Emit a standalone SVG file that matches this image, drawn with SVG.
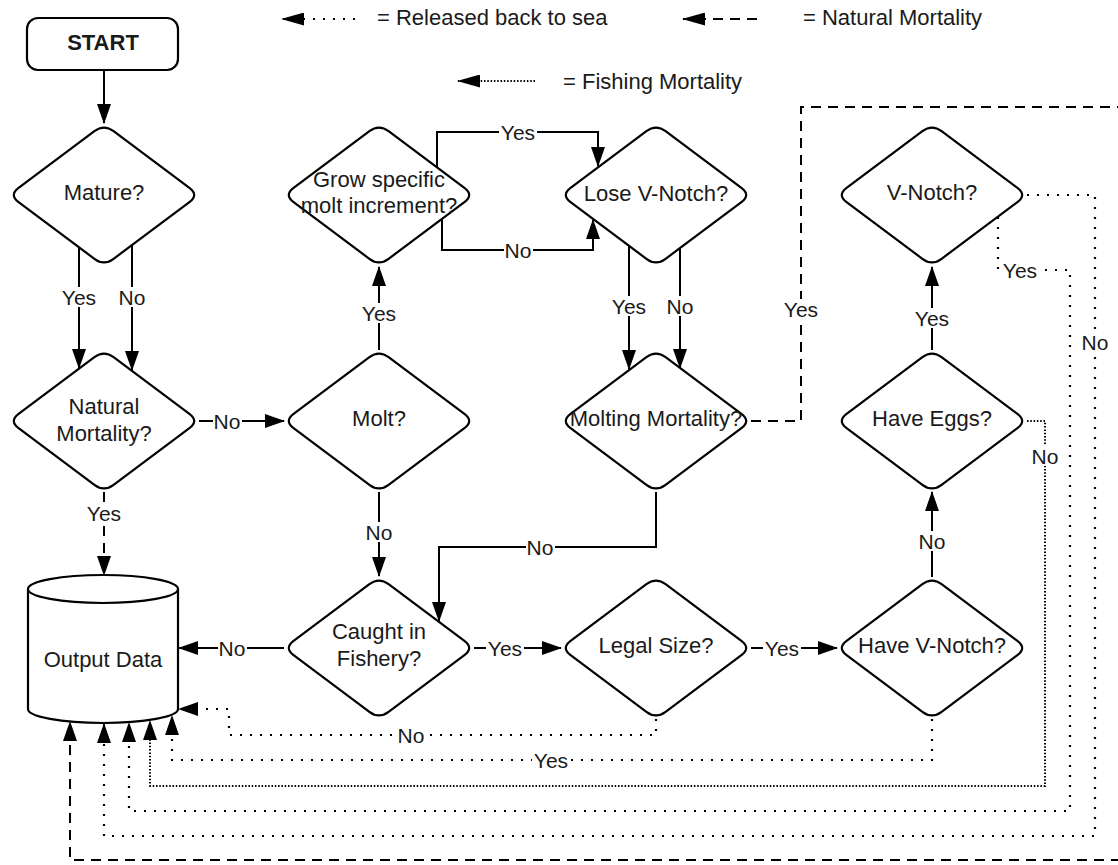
<svg xmlns="http://www.w3.org/2000/svg" width="1118" height="865" viewBox="0 0 1118 865">
<style>
  text { font-family: "Liberation Sans", Arial, sans-serif; font-size: 22px; fill: #1a1a1a; text-anchor: middle; }
  .lg { text-anchor: start; }
  .b { font-weight: bold; }
  .shape { fill: #fff; stroke: #000; stroke-width: 2.2; }
  .c { fill: none; stroke: #000; stroke-width: 2; }
  .dash { stroke-dasharray: 10 7; }
  .rel { stroke-dasharray: 2 8; stroke-width: 2.2; }
  .fish { stroke-dasharray: 1.5 1.8; }
  .lbl text { font-size: 21px; }
  .lbl rect { fill: #fff; }
</style>
<defs>
  <path id="dia" d="M -9.6,-63.8 Q 0,-71 9.6,-63.8 L 85.4,-7.2 Q 95,0 85.4,7.2 L 9.6,63.8 Q 0,71 -9.6,63.8 L -85.4,7.2 Q -95,0 -85.4,-7.2 Z"/>
  <marker id="ah" viewBox="0 0 20 14" markerWidth="20" markerHeight="14" refX="19" refY="7" orient="auto" markerUnits="userSpaceOnUse">
    <path d="M0,0 L20,7 L0,14 z" fill="#000"/>
  </marker>
  <marker id="ahl" viewBox="0 0 23 13" markerWidth="23" markerHeight="13" refX="22" refY="6.5" orient="auto" markerUnits="userSpaceOnUse">
    <path d="M0,0 L23,6.5 L0,13 z" fill="#000"/>
  </marker>
</defs>

<g id="legend">
  <path class="c rel" d="M355,19 L282,19" marker-end="url(#ahl)"/>
  <text class="lg" x="377" y="25">= Released back to sea</text>
  <path class="c dash" d="M757,19 L683,19" marker-end="url(#ahl)"/>
  <text class="lg" x="803" y="25">= Natural Mortality</text>
  <path class="c fish" d="M535,81 L458,81" marker-end="url(#ahl)"/>
  <text class="lg" x="563" y="89">= Fishing Mortality</text>
</g>

<g id="connectors">
  <path class="c" d="M104,70 L104,123" marker-end="url(#ah)"/>
  <path class="c" d="M79,247 L79,368" marker-end="url(#ah)"/>
  <path class="c" d="M132,245 L132,370" marker-end="url(#ah)"/>
  <path class="c" d="M199,421 L284,421" marker-end="url(#ah)"/>
  <path class="c" d="M379,350 L379,267" marker-end="url(#ah)"/>
  <path class="c" d="M379,492 L379,576" marker-end="url(#ah)"/>
  <path class="c" d="M437,167 L437,132 L598,132 L598,166" marker-end="url(#ah)"/>
  <path class="c" d="M442,219 L442,250 L593,250 L593,220" marker-end="url(#ah)"/>
  <path class="c" d="M629,246 L629,369" marker-end="url(#ah)"/>
  <path class="c" d="M680,248 L680,368" marker-end="url(#ah)"/>
  <path class="c" d="M656,492 L656,547 L439,547 L439,621" marker-end="url(#ah)"/>
  <path class="c" d="M284,648 L179,648" marker-end="url(#ah)"/>
  <path class="c" d="M474,648 L561,648" marker-end="url(#ah)"/>
  <path class="c" d="M751,648 L837,648" marker-end="url(#ah)"/>
  <path class="c" d="M932,577 L932,492" marker-end="url(#ah)"/>
  <path class="c" d="M932,350 L932,267" marker-end="url(#ah)"/>
  <path class="c dash" d="M104,492 L104,575" marker-end="url(#ah)"/>
  <path class="c dash" d="M751,421 L801,421 L801,107 L1125,107 L1125,860 L70,860 L70,722" marker-end="url(#ah)"/>
  <path class="c rel" d="M656,719 L656,735 L229,735 L229,709 L179,709" marker-end="url(#ah)"/>
  <path class="c rel" d="M932,719 L932,760 L172,760 L172,716" marker-end="url(#ah)"/>
  <path class="c rel" d="M998,217 L998,270 L1070,270 L1070,811 L129,811 L129,723" marker-end="url(#ah)"/>
  <path class="c rel" d="M1027,195 L1095,195 L1095,836 L104,836 L104,724" marker-end="url(#ah)"/>
  <path class="c fish" d="M1027,421 L1045,421 L1045,786 L150,786 L150,721" marker-end="url(#ah)"/>

  <g class="lbl">
    <rect x="60" y="287" width="38" height="20"/><text x="79" y="305">Yes</text>
    <rect x="118" y="287" width="29" height="20"/><text x="132" y="305">No</text>
    <rect x="213" y="411" width="29" height="20"/><text x="227" y="429">No</text>
    <rect x="85" y="503" width="38" height="20"/><text x="104" y="521">Yes</text>
    <rect x="360" y="303" width="38" height="20"/><text x="379" y="321">Yes</text>
    <rect x="365" y="522" width="29" height="20"/><text x="379" y="540">No</text>
    <rect x="499" y="122" width="38" height="20"/><text x="518" y="140">Yes</text>
    <rect x="504" y="240" width="29" height="20"/><text x="518" y="258">No</text>
    <rect x="610" y="296" width="38" height="20"/><text x="629" y="314">Yes</text>
    <rect x="666" y="296" width="29" height="20"/><text x="680" y="314">No</text>
    <rect x="526" y="537" width="29" height="20"/><text x="540" y="555">No</text>
    <rect x="782" y="299" width="38" height="20"/><text x="801" y="317">Yes</text>
    <rect x="218" y="638" width="29" height="20"/><text x="232" y="656">No</text>
    <rect x="486" y="638" width="38" height="20"/><text x="505" y="656">Yes</text>
    <rect x="763" y="638" width="38" height="20"/><text x="782" y="656">Yes</text>
    <rect x="918" y="531" width="29" height="20"/><text x="932" y="549">No</text>
    <rect x="913" y="308" width="38" height="20"/><text x="932" y="326">Yes</text>
    <rect x="1001" y="260" width="38" height="20"/><text x="1020" y="278">Yes</text>
    <rect x="1081" y="332" width="29" height="20"/><text x="1095" y="350">No</text>
    <rect x="1031" y="446" width="29" height="20"/><text x="1045" y="464">No</text>
    <rect x="397" y="725" width="29" height="20"/><text x="411" y="743">No</text>
    <rect x="532" y="750" width="38" height="20"/><text x="551" y="768">Yes</text>
  </g>
</g>

<g id="n-start">
  <rect class="shape" x="27" y="18" width="151" height="52" rx="11"/>
  <text class="b" x="103" y="50">START</text>
</g>
<g id="n-mature">
  <use href="#dia" class="shape" x="104" y="195"/>
  <text x="104" y="200">Mature?</text>
</g>
<g id="n-natural">
  <use href="#dia" class="shape" x="104" y="421"/>
  <text x="104" y="414">Natural</text>
  <text x="104" y="441">Mortality?</text>
</g>
<g id="n-molt">
  <use href="#dia" class="shape" x="379" y="421"/>
  <text x="379" y="426">Molt?</text>
</g>
<g id="n-grow">
  <use href="#dia" class="shape" x="379" y="195"/>
  <text x="379" y="187">Grow specific</text>
  <text x="379" y="213">molt increment?</text>
</g>
<g id="n-lose">
  <use href="#dia" class="shape" x="656" y="195"/>
  <text x="656" y="201">Lose V-Notch?</text>
</g>
<g id="n-molting">
  <use href="#dia" class="shape" x="656" y="421"/>
  <text x="656" y="426">Molting Mortality?</text>
</g>
<g id="n-vnotch">
  <use href="#dia" class="shape" x="932" y="195"/>
  <text x="932" y="200">V-Notch?</text>
</g>
<g id="n-eggs">
  <use href="#dia" class="shape" x="932" y="421"/>
  <text x="932" y="426">Have Eggs?</text>
</g>
<g id="n-caught">
  <use href="#dia" class="shape" x="379" y="648"/>
  <text x="379" y="639">Caught in</text>
  <text x="379" y="666">Fishery?</text>
</g>
<g id="n-legal">
  <use href="#dia" class="shape" x="656" y="648"/>
  <text x="656" y="653">Legal Size?</text>
</g>
<g id="n-havev">
  <use href="#dia" class="shape" x="932" y="648"/>
  <text x="932" y="653">Have V-Notch?</text>
</g>
<g id="n-output">
  <path class="shape" d="M28,589 L28,709 A75,14 0 0 0 178,709 L178,589"/>
  <ellipse class="shape" cx="103" cy="589" rx="75" ry="14"/>
  <text x="103" y="667">Output Data</text>
</g>
</svg>
